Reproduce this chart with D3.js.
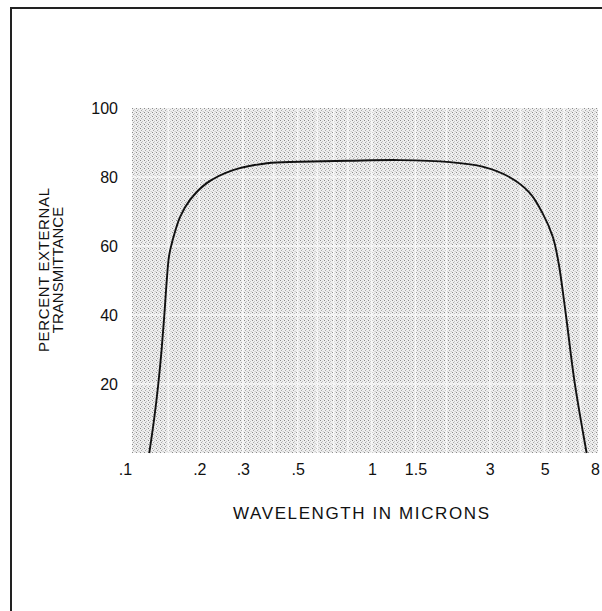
<!DOCTYPE html>
<html><head><meta charset="utf-8">
<script src="https://cdn.jsdelivr.net/npm/d3@7"></script>
<style>body{margin:0;background:#fff}svg{display:block}text{font-family:"Liberation Sans",Arial,sans-serif;fill:#111}</style>
</head><body>
<script>
// Data
const wavelength = [0.1254, 0.1313, 0.1364, 0.1407, 0.1443, 0.1476, 0.1507, 0.155, 0.167, 0.183, 0.215, 0.274, 0.376, 0.51, 0.8, 1.3, 2.07, 2.8, 3.6, 4.35, 4.9, 5.4, 5.7, 6.1, 6.6, 7.4];
const transmittance = [0, 10, 20, 30, 40, 50, 57, 61, 68.4, 73.3, 78.3, 82, 84, 84.4, 84.7, 84.9, 84.3, 83, 80, 75.4, 69.6, 62.6, 55, 40, 21, 0];
const xTicks = [0.1, 0.2, 0.3, 0.5, 1, 1.5, 3, 5, 8];
const xTickLabels = [".1", ".2", ".3", ".5", "1", "1.5", "3", "5", "8"];
const yTicks = [20, 40, 60, 80, 100];
const xGrid = [0.15, 0.2, 0.3, 0.4, 0.5, 0.6, 0.7, 0.8, 1, 1.5, 2, 3, 4, 5, 6, 7];
const yGrid = [20, 40, 60, 80];

const W = 602, H = 611;
const svg = d3.select("body").append("svg").attr("width", W).attr("height", H);

const x = d3.scaleLog().domain([0.1, 8]).range([125, 595]);
const y = d3.scaleLinear().domain([0, 100]).range([453, 108]);
const FONT = "'Liberation Sans',Arial,sans-serif";

// texture pattern
const defs = svg.append("defs");
const pat = defs.append("pattern").attr("id", "stip").attr("patternUnits", "userSpaceOnUse")
  .attr("width", 4).attr("height", 4);
pat.append("rect").attr("width", 4).attr("height", 4).attr("fill", "#efefef");
[[0,0,"#8a8a8a"],[2,1,"#c4c4c4"],[1,2,"#a8a8a8"],[3,3,"#d0d0d0"],[2,3,"#e0e0e0"]].forEach(([px,py,c]) =>
  pat.append("rect").attr("x", px).attr("y", py).attr("width", 1).attr("height", 1).attr("fill", c));

// frame
svg.append("path").attr("d", `M11,${H}V8H${W}`).attr("fill", "none").attr("stroke", "#222").attr("stroke-width", 2);

// shaded plot area
const left = 132, right = 598;
svg.append("rect").attr("x", left).attr("y", y(100)).attr("width", right - left).attr("height", y(0) - y(100))
  .attr("fill", "url(#stip)");

// faint white grid
const g = svg.append("g").attr("stroke", "#fff").attr("stroke-width", 1.6).attr("opacity", 0.75);
g.selectAll("line.v").data(xGrid).join("line").attr("class", "v")
  .attr("x1", d => x(d)).attr("x2", d => x(d)).attr("y1", y(100)).attr("y2", y(0));
g.selectAll("line.h").data(yGrid).join("line").attr("class", "h")
  .attr("x1", left).attr("x2", right).attr("y1", d => y(d)).attr("y2", d => y(d));

// axes (labels only)
const xAxis = d3.axisBottom(x).tickValues(xTicks).tickFormat((d, i) => xTickLabels[i]).tickSize(0).tickPadding(11);
const xg = svg.append("g").attr("transform", `translate(0,${y(0)})`).call(xAxis);
xg.select(".domain").remove();
xg.selectAll("text").style("font-size", "16px").style("font-family", FONT).attr("fill", "#111");

const yAxis = d3.axisLeft(y).tickValues(yTicks).tickSize(0).tickPadding(0);
const yg = svg.append("g").attr("transform", `translate(118,0)`).call(yAxis);
yg.select(".domain").remove();
yg.selectAll("text").style("font-size", "16px").style("font-family", FONT).attr("fill", "#111");

// curve
const pts = wavelength.map((w, i) => [x(w), y(transmittance[i])]);
svg.append("path").attr("d", d3.line().curve(d3.curveCatmullRom.alpha(0.5))(pts))
  .attr("fill", "none").attr("stroke", "#111").attr("stroke-width", 1.9);

// axis titles
svg.append("text").attr("x", 361).attr("y", 519).attr("text-anchor", "middle")
  .style("font-size", "17px").attr("textLength", 256).text("WAVELENGTH IN MICRONS");
const yt = svg.append("text").attr("transform", "translate(0,270) rotate(-90)").attr("text-anchor", "middle")
  .style("font-size", "15px");
yt.append("tspan").attr("x", 0).attr("y", 49).attr("textLength", 164).text("PERCENT EXTERNAL");
yt.append("tspan").attr("x", 0).attr("y", 63).text("TRANSMITTANCE");
</script>
</body></html>
